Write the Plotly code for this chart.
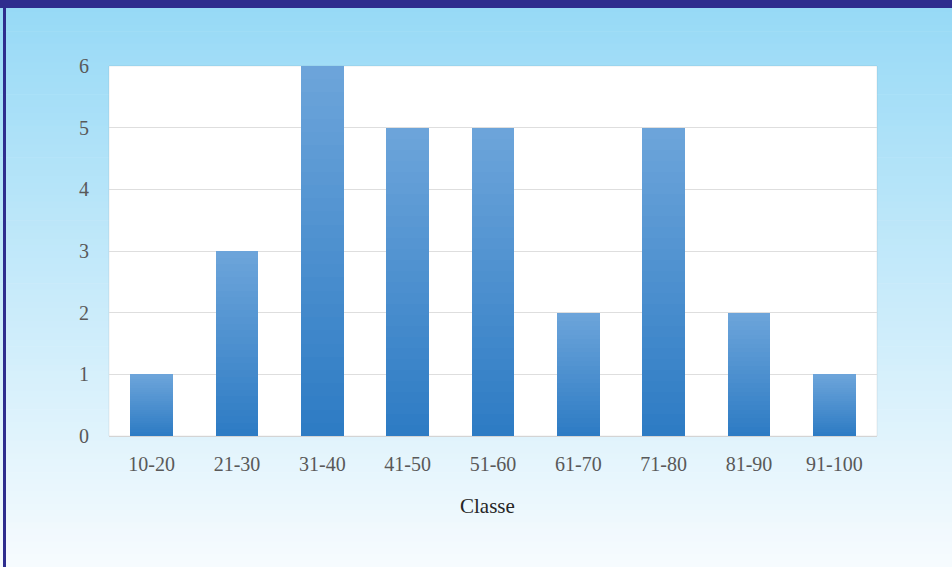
import plotly.graph_objects as go

# Frequency table
classes = ["10-20", "21-30", "31-40", "41-50", "51-60", "61-70", "71-80", "81-90", "91-100"]
counts = [1, 3, 6, 5, 5, 2, 5, 2, 1]
y_ticks = [0, 1, 2, 3, 4, 5, 6]

W, H = 952, 567
L, R, T, B = 109, 75, 66, 131


def lerp(c0, c1, t):
    return "rgb({},{},{})".format(*[round(a + (b - a) * t) for a, b in zip(c0, c1)])


fig = go.Figure()

# Each bar is built from thin stacked slices, dark at the base and light at the top
slices = 28
bar_bottom = (46, 124, 196)
bar_top = (108, 164, 218)
for k in range(slices):
    fig.add_trace(go.Bar(
        x=classes,
        y=[v / slices for v in counts],
        marker=dict(color=lerp(bar_bottom, bar_top, k / (slices - 1)), line=dict(width=0)),
        showlegend=False,
        hoverinfo="skip",
    ))

pw = W - L - R
ph = H - T - B

shapes = []
# Page background: light sky blue fading to near white
bands = 90
bg_top = (150, 217, 246)
bg_bottom = (246, 251, 254)
for i in range(bands):
    shapes.append(dict(
        type="rect", xref="paper", yref="paper", layer="below",
        x0=-L / pw - 0.01, x1=1 + R / pw + 0.01,
        y0=1 + T / ph - (i + 1) * (H / ph) / bands - 0.001,
        y1=1 + T / ph - i * (H / ph) / bands + 0.001,
        fillcolor=lerp(bg_top, bg_bottom, i / (bands - 1)),
        line=dict(width=0),
    ))
# White plotting panel
shapes.append(dict(
    type="rect", xref="paper", yref="paper", layer="below",
    x0=0, x1=1, y0=0, y1=1, fillcolor="white",
    line=dict(width=1, color="rgba(0,0,0,0.07)"),
))
# Dark blue frame: top band and left rule
shapes.append(dict(
    type="rect", xref="paper", yref="paper", layer="above",
    x0=-L / pw - 0.01, x1=1 + R / pw + 0.01,
    y0=1 + T / ph - 8 / ph, y1=1 + T / ph + 0.01,
    fillcolor="#2e2d8e", line=dict(width=0),
))
shapes.append(dict(
    type="rect", xref="paper", yref="paper", layer="above",
    x0=(3 - L) / pw, x1=(6 - L) / pw,
    y0=-B / ph - 0.01, y1=1 + T / ph + 0.01,
    fillcolor="#2e2d8e", line=dict(width=0),
))

fig.update_layout(
    width=W, height=H,
    margin=dict(l=L, r=R, t=T, b=B, pad=0),
    paper_bgcolor="#f5fbfe",
    plot_bgcolor="rgba(0,0,0,0)",
    barmode="stack",
    bargap=0.5,
    shapes=shapes,
    font=dict(family="Liberation Serif", size=20, color="#595959"),
    xaxis=dict(
        showgrid=False, showline=True, linecolor="#d4d4d4", linewidth=1,
        ticks="outside", ticklen=10, tickcolor="rgba(0,0,0,0)",
        tickfont=dict(family="Liberation Serif", size=20, color="#595959"),
        fixedrange=True,
    ),
    yaxis=dict(
        range=[0, 6], tickvals=y_ticks,
        showgrid=True, gridcolor="#dedede", gridwidth=1,
        zeroline=False, showline=False,
        ticks="outside", ticklen=15, tickcolor="rgba(0,0,0,0)",
        tickfont=dict(family="Liberation Serif", size=20, color="#595959"),
        fixedrange=True,
    ),
    annotations=[dict(
        text="Classe", xref="paper", yref="paper",
        x=(487 - L) / pw, y=-(506 - (H - B)) / ph,
        xanchor="center", yanchor="middle", showarrow=False,
        font=dict(family="Liberation Serif", size=21, color="#262626"),
    )],
)

fig.write_html("out.html")
